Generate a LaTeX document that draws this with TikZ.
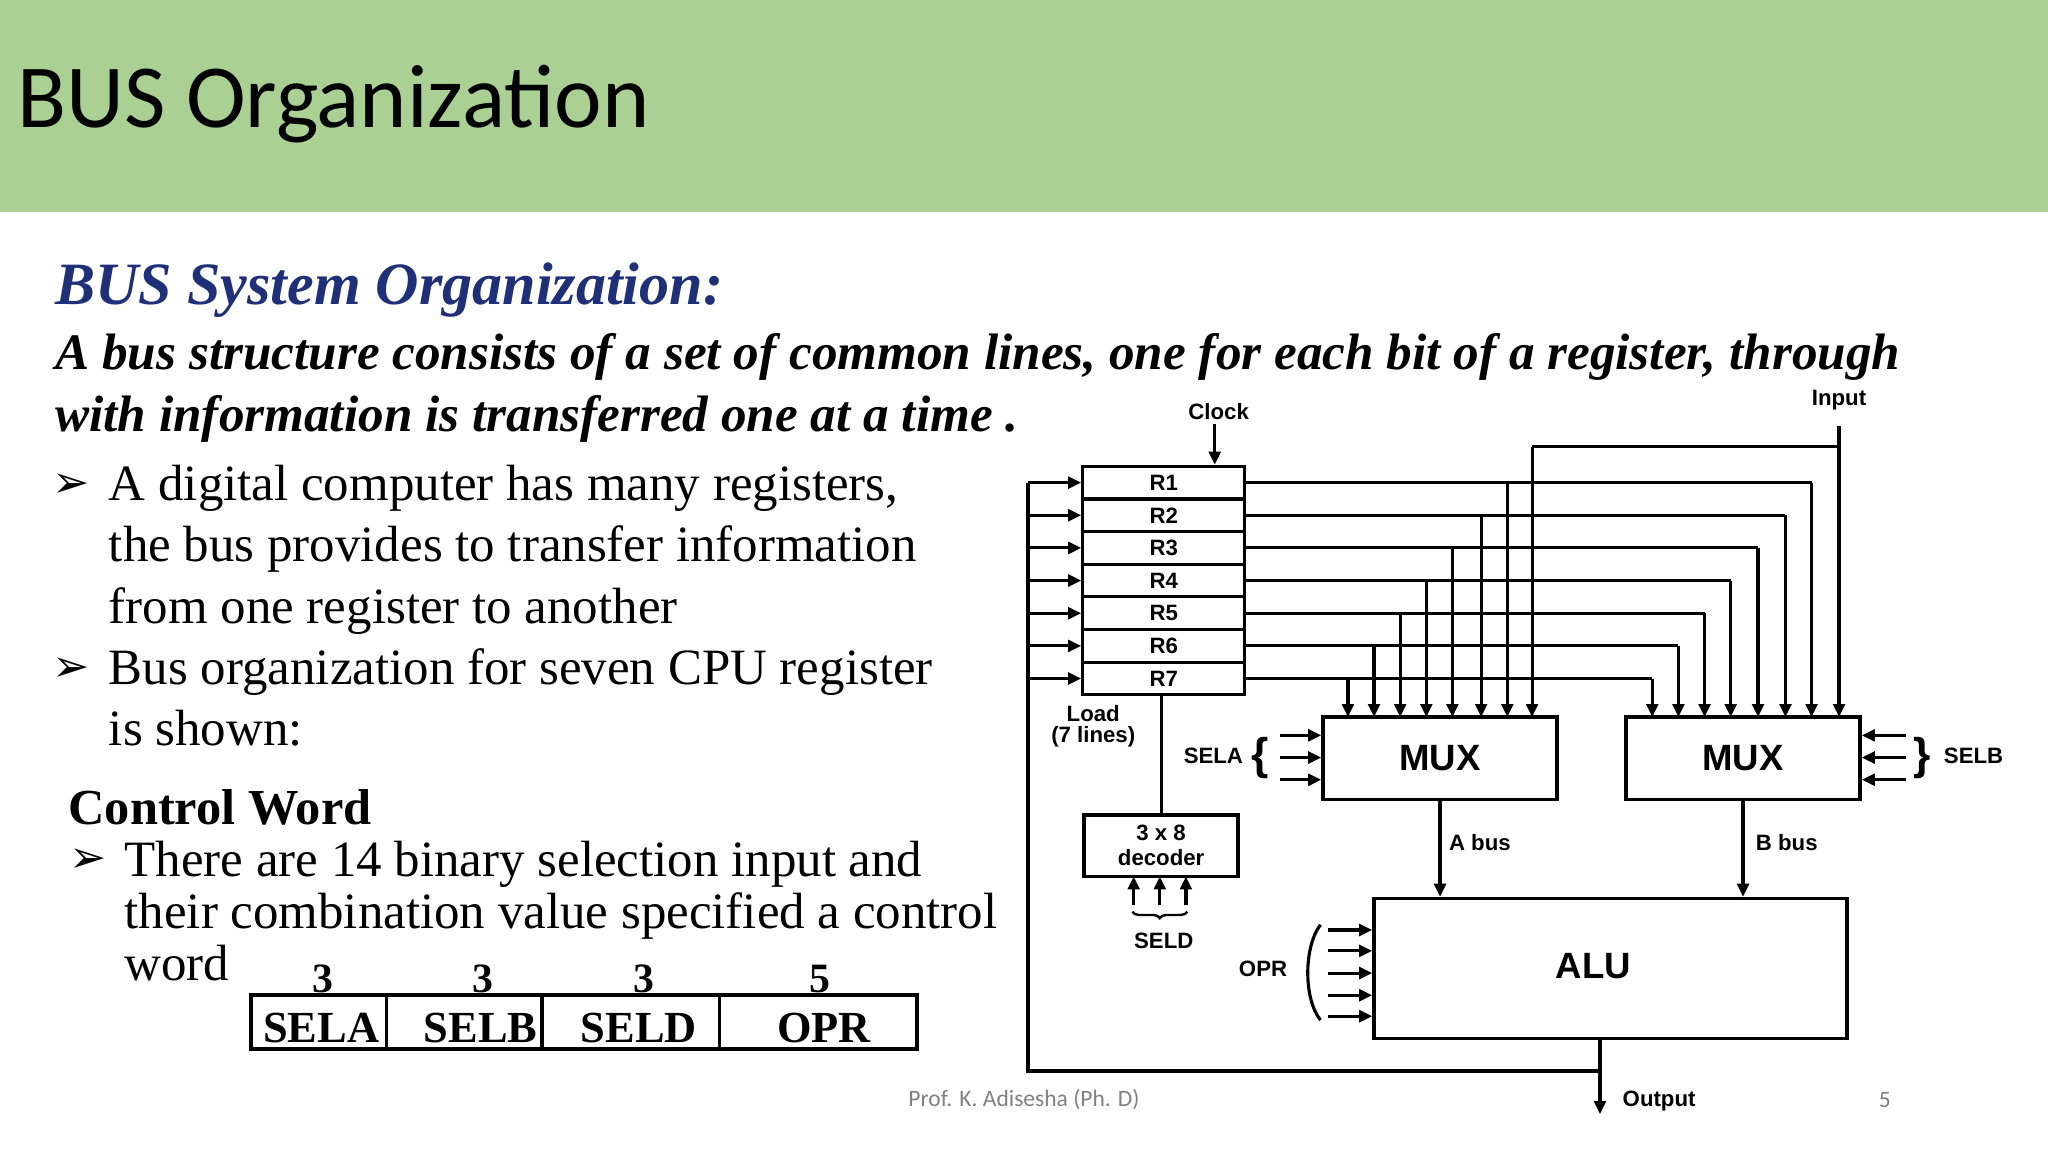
\documentclass[tikz,border=0pt]{standalone}
\usepackage{fontspec}
\setmainfont{Liberation Serif}
\newfontfamily\calib{Carlito}
\newfontfamily\arl{Liberation Sans}
\newfontfamily\dv{DejaVu Sans}
\usetikzlibrary{arrows.meta,decorations.pathreplacing,calc}
\definecolor{hdr}{RGB}{171,208,148}
\definecolor{navy}{RGB}{31,48,120}
\begin{document}
\begin{tikzpicture}[x=0.5pt,y=-0.5pt,
  ln/.style={line width=1.2pt},
  arr/.style={ln,-{Triangle[width=4.5pt,length=5pt]}},
  reg/.style={draw,line width=1.2pt,minimum width=62pt,minimum height=12.5pt,inner sep=0pt,font=\arl\bfseries\fontsize{8.5}{9}\selectfont},
  blk/.style={draw,line width=1.4pt,inner sep=0pt,font=\arl\bfseries\fontsize{14}{16}\selectfont},
  lbl/.style={font=\arl\bfseries\fontsize{8.5}{9}\selectfont,inner sep=0pt},
  txt/.style={anchor=base west,inner sep=0pt,font=\fontsize{19.5}{20}\selectfont},
  bul/.style={anchor=base west,inner sep=0pt,font=\dv\fontsize{17}{18}\selectfont},
  bi/.style={anchor=base west,inner sep=0pt,font=\bfseries\itshape\fontsize{19.6}{20}\selectfont}]
\useasboundingbox (0,0) rectangle (1568,882);
\fill[white] (0,0) rectangle (1568,882);
\fill[hdr] (0,0) rectangle (1568,162);
\node[anchor=base west,inner sep=0pt,font=\calib\fontsize{34.5}{36}\selectfont] (title) at (13,98) {BUS Organization};
\node[anchor=base west,inner sep=0pt,text=navy,font=\bfseries\itshape\fontsize{23}{24}\selectfont] (sub) at (42,233) {BUS System Organization:};
\node[bi] (p1) at (42,283) {A bus structure consists of a set of common lines, one for each bit of a register, through};
\node[bi] (p2) at (42,330) {with information is transferred one at a time .};
\node[bul] (b1) at (40,381) {➢};
\node[txt] (t1) at (83,383) {A digital computer has many registers,};
\node[txt] (t2) at (83,430) {the bus provides to transfer information};
\node[txt] (t3) at (83,477) {from one register to another};
\node[bul] (b2) at (40,522) {➢};
\node[txt] (t4) at (83,524) {Bus organization for seven CPU register};
\node[txt] (t5) at (83,571) {is shown:};
\node[anchor=base west,inner sep=0pt,font=\bfseries\fontsize{19.3}{20}\selectfont] (cw) at (52,631) {Control Word};
\node[bul] (b3) at (53,668) {➢};
\node[txt] (t6) at (95,671) {There are 14 binary selection input and};
\node[txt] (t7) at (95,711) {their combination value specified a control};
\node[txt] (t8) at (95,751) {word};
% table
\draw[line width=1.5pt] (192,762) rectangle (702,803);
\foreach \x in {296,415,551} \draw[line width=1.2pt] (\x,762) -- (\x,803);
\foreach \x/\t [count=\i] in {246/SELA,368/SELB,489/SELD,631/OPR}
  \node[font=\bfseries\fontsize{17}{18}\selectfont,inner sep=0pt,anchor=base] (c\i) at (\x,798) {\t};
\foreach \x/\t [count=\i] in {247/3,370/3,493/3,628/5}
  \node[font=\bfseries\fontsize{16}{17}\selectfont,inner sep=0pt,anchor=base] (n\i) at (\x,760) {\t};
% footer
\node[font=\calib\fontsize{9}{10}\selectfont,text=gray,inner sep=0pt] (ft) at (784,842) {Prof. K. Adisesha (Ph. D)};
\node[font=\calib\fontsize{9}{10}\selectfont,text=gray,inner sep=0pt] (pg) at (1443,842) {5};
% registers
\foreach \i in {1,...,7} \node[reg] (r\i) at (891,{357+12.5+25*(\i-1)}) {R\i};
\node[lbl] (clk) at (933,315) {Clock};
\draw[arr] (930,325) -- (r1.north -| 930,0);
% MUX, ALU, decoder
\node[blk,minimum width=89.5pt,minimum height=31.5pt] (ma) at (1102.5,580.5) {MUX};
\node[blk,minimum width=89.5pt,minimum height=31.5pt] (mb) at (1334.5,580.5) {MUX};
\node[blk,minimum width=181pt,minimum height=53.5pt] (alu) at (1233,741.5) {};
\node[font=\arl\bfseries\fontsize{14}{16}\selectfont,inner sep=0pt] (alut) at (1220,740) {ALU};
\node[draw,line width=1.4pt,minimum width=59pt,minimum height=23.5pt,inner sep=0pt,align=center,font=\arl\bfseries\fontsize{8.5}{9.5}\selectfont] (dec) at (889,647.5) {3 x 8\\decoder};
% register outputs
\foreach \i/\xa/\xb in {1/1154/1387,2/1134/1367,3/1112/1346,4/1092/1325,5/1072/1305,6/1052/1285,7/1032/1265}{
  \draw[ln] (r\i.east) -- (\xb,{357+12.5+25*(\i-1)});
  \draw[arr] (\xb,{357+12.5+25*(\i-1)}) -- (\xb,549);
  \draw[arr] (\xa,{357+12.5+25*(\i-1)}) -- (\xa,549);
}
\node[lbl] (inp) at (1408,306) {Input};
\draw[arr] (1408,326) -- (1408,549);
\draw[ln] (1408,342) -- (1173,342);
\draw[arr] (1173,342) -- (1173,549);
% feedback
\coordinate (oj) at (1225,820);
\draw[arr] (alu.south -| oj) -- (1225,853);
\node[lbl,anchor=west] (out) at (1242,843) {Output};
\draw[ln] (oj) -- (787,820) -- (787,{357+12.5});
\foreach \i in {1,...,7} \draw[arr] (787,{357+12.5+25*(\i-1)}) -- (r\i.west);
% load / decoder
\node[lbl,align=center,font=\arl\bfseries\fontsize{8.5}{8}\selectfont] (load) at (837,556) {Load\\(7 lines)};
\draw[ln] (r7.south -| dec.north) -- (dec.north);
\foreach \x in {868,888,908} \draw[arr] (\x,693) -- (\x,671);
\draw[line width=0.9pt,decorate,decoration={brace,mirror,amplitude=2.5pt}] (867,698) -- (909,698);
\node[lbl] (seld) at (891,720) {SELD};
% SELA / SELB
\node[lbl] (sela) at (929,579) {SELA};
\node[font=\arl\bfseries\fontsize{17}{17}\selectfont,inner sep=0pt] (bra) at (965,580) {\{};
\foreach \y in {563,580,597} \draw[arr] (980,\y) -- (ma.west |- 0,\y);
\node[font=\arl\bfseries\fontsize{17}{17}\selectfont,inner sep=0pt] (brb) at (1472,580) {\}};
\node[lbl] (selb) at (1511,579) {SELB};
\foreach \y in {563,580,597} \draw[arr] (1459,\y) -- (mb.east |- 0,\y);
% buses
\draw[arr] (ma.south) -- (alu.north -| ma.south);
\draw[arr] (mb.south) -- (alu.north -| mb.south);
\node[lbl,anchor=west] (ab) at (1109,645) {A bus};
\node[lbl,anchor=west] (bb) at (1344,645) {B bus};
% OPR
\node[lbl] (opr) at (967,742) {OPR};
\draw[line width=1.2pt] (1011,708) .. controls (998,725) and (998,765) .. (1011,781);
\foreach \y in {712,728,745,762,778} \draw[arr] (1017,\y) -- (alu.west |- 0,\y);
\end{tikzpicture}
\end{document}
